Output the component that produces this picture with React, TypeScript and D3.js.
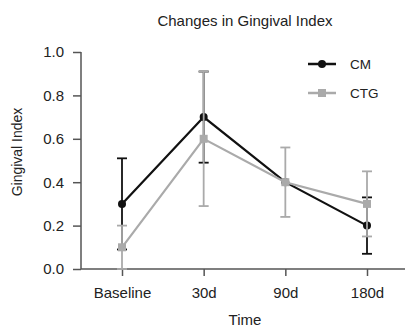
import { useEffect, useRef } from "react";
import * as d3 from "d3";

// time points and group means / error bar ends
const timePoints = ["Baseline", "30d", "90d", "180d"];
const cmMean = [0.3, 0.7, 0.4, 0.2];
const cmLow = [0.09, 0.49, 0.4, 0.07];
const cmHigh = [0.51, 0.91, 0.4, 0.33];
const ctgMean = [0.1, 0.6, 0.4, 0.3];
const ctgLow = [0.0, 0.29, 0.24, 0.15];
const ctgHigh = [0.2, 0.91, 0.56, 0.45];
const yTicks = [0, 0.2, 0.4, 0.6, 0.8, 1.0];

const App = () => {
  const svgRef = useRef<SVGSVGElement>(null);

  useEffect(() => {
    const svg = d3.select(svgRef.current);
    svg.selectAll("*").remove();
    const font = "'Liberation Sans', Arial, sans-serif";
    const axisColor = "#555";
    const textColor = "#222";

    const x = d3.scalePoint().domain(timePoints).range([122, 367]);
    const y = d3.scaleLinear().domain([0, 1]).range([269, 52]);

    // title
    svg.append("text")
      .attr("x", 245).attr("y", 26)
      .attr("text-anchor", "middle")
      .style("font-family", font).style("font-size", "15px")
      .attr("fill", textColor)
      .text("Changes in Gingival Index");

    // y axis
    const yAxis = svg.append("g").attr("transform", "translate(81,0)")
      .call(d3.axisLeft(y).tickValues(yTicks).tickFormat(d3.format(".1f")).tickSize(8).tickPadding(9));
    yAxis.select(".domain").attr("stroke", axisColor).attr("stroke-width", 1.5).attr("d", `M0,${y(1)}V${y(0)}`);
    yAxis.selectAll(".tick line").attr("stroke", axisColor).attr("stroke-width", 1.5);
    yAxis.selectAll(".tick text").style("font-family", font).style("font-size", "15px").attr("fill", textColor);

    // x axis
    const xAxis = svg.append("g").attr("transform", `translate(0,${y(0)})`)
      .call(d3.axisBottom(x).tickSize(7).tickPadding(11));
    xAxis.select(".domain").attr("stroke", axisColor).attr("stroke-width", 1.5).attr("d", "M81,0H405");
    xAxis.selectAll(".tick line").attr("stroke", axisColor).attr("stroke-width", 1.5);
    xAxis.selectAll(".tick text").style("font-family", font).style("font-size", "15px").attr("fill", textColor);

    // axis titles
    svg.append("text")
      .attr("transform", `translate(22,152) rotate(-90)`)
      .attr("text-anchor", "middle")
      .style("font-family", font).style("font-size", "14px")
      .attr("fill", textColor)
      .text("Gingival Index");
    svg.append("text")
      .attr("x", 245).attr("y", 325)
      .attr("text-anchor", "middle")
      .style("font-family", font).style("font-size", "15px")
      .attr("fill", textColor)
      .text("Time");

    const series = [
      { name: "CM", color: "#111", mean: cmMean, low: cmLow, high: cmHigh, marker: "circle" },
      { name: "CTG", color: "#aaa", mean: ctgMean, low: ctgLow, high: ctgHigh, marker: "square" },
    ];

    const line = d3.line<number>()
      .x((_, i) => x(timePoints[i])!)
      .y((d) => y(d));

    series.forEach((s) => {
      const g = svg.append("g");
      // error bars
      timePoints.forEach((t, i) => {
        const cx = x(t)!;
        if (s.high[i] === s.low[i]) return;
        g.append("line").attr("x1", cx).attr("x2", cx)
          .attr("y1", y(s.high[i])).attr("y2", y(s.low[i]))
          .attr("stroke", s.color).attr("stroke-width", 1.8);
        [s.high[i], s.low[i]].forEach((v) => {
          g.append("line").attr("x1", cx - 5).attr("x2", cx + 5)
            .attr("y1", y(v)).attr("y2", y(v))
            .attr("stroke", s.color).attr("stroke-width", 1.8);
        });
      });
      g.append("path").attr("d", line(s.mean)!)
        .attr("fill", "none").attr("stroke", s.color).attr("stroke-width", 2.2);
      s.mean.forEach((v, i) => {
        const cx = x(timePoints[i])!;
        if (s.marker === "circle") {
          g.append("circle").attr("cx", cx).attr("cy", y(v)).attr("r", 4).attr("fill", s.color);
        } else {
          g.append("rect").attr("x", cx - 4).attr("y", y(v) - 4).attr("width", 8).attr("height", 8).attr("fill", s.color);
        }
      });
    });

    // legend
    series.forEach((s, i) => {
      const ly = 64 + i * 29;
      svg.append("line").attr("x1", 308).attr("x2", 336).attr("y1", ly).attr("y2", ly)
        .attr("stroke", s.color).attr("stroke-width", 2.5);
      if (s.marker === "circle") {
        svg.append("circle").attr("cx", 322).attr("cy", ly).attr("r", 4).attr("fill", s.color);
      } else {
        svg.append("rect").attr("x", 318).attr("y", ly - 4).attr("width", 8).attr("height", 8).attr("fill", s.color);
      }
      svg.append("text").attr("x", 350).attr("y", ly + 5)
        .style("font-family", font).style("font-size", "13.5px").attr("fill", textColor)
        .text(s.name);
    });
  }, []);

  return (
    <svg ref={svgRef} width={408} height={329}
      style={{ position: "absolute", left: 0, top: 0, background: "#fff" }} />
  );
};

export default App;
